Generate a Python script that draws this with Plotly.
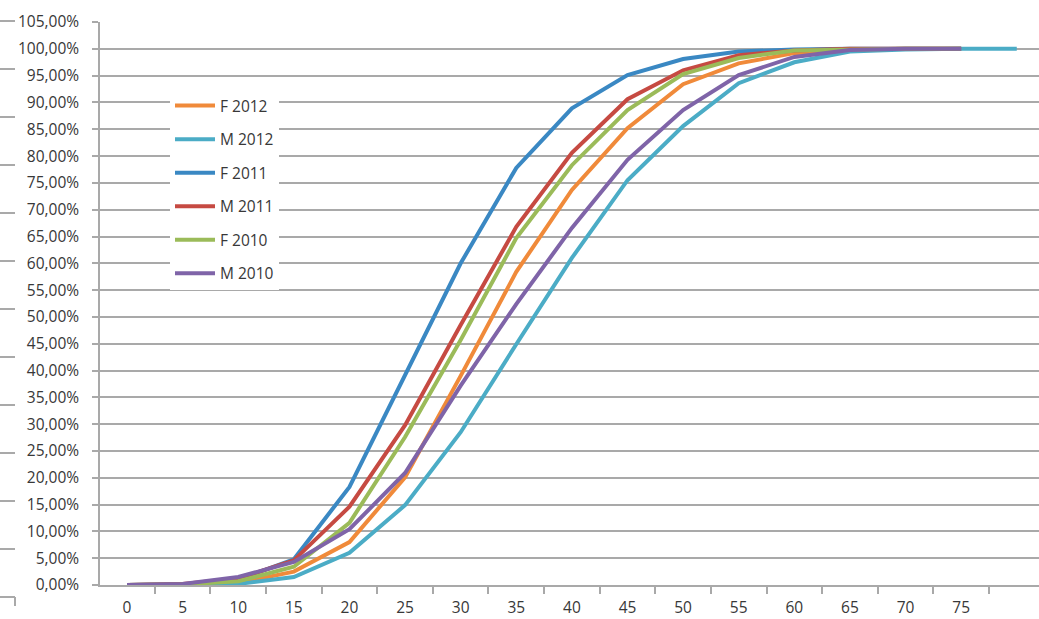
import plotly.graph_objects as go

# ---- data ----
ages = [0, 5, 10, 15, 20, 25, 30, 35, 40, 45, 50, 55, 60, 65, 70, 75, 80]
tick_labels = ["0", "5", "10", "15", "20", "25", "30", "35", "40", "45", "50", "55", "60", "65", "70", "75"]

f_2012 = [0, 0.001, 0.004, 0.025, 0.080, 0.201, 0.390, 0.584, 0.737, 0.852, 0.934, 0.973, 0.992, 0.999, 1.0, 1.0]
m_2012 = [0, 0.0005, 0.002, 0.015, 0.060, 0.149, 0.285, 0.449, 0.610, 0.755, 0.856, 0.936, 0.975, 0.995, 0.999, 1.0, 1.0]
f_2011 = [0, 0.001, 0.010, 0.048, 0.183, 0.390, 0.600, 0.778, 0.889, 0.951, 0.981, 0.995, 0.999, 1.0, 1.0, 1.0]
m_2011 = [0, 0.002, 0.012, 0.046, 0.146, 0.298, 0.485, 0.668, 0.806, 0.906, 0.960, 0.988, 0.997, 1.0, 1.0, 1.0]
f_2010 = [0, 0.001, 0.007, 0.034, 0.116, 0.276, 0.457, 0.647, 0.783, 0.886, 0.953, 0.983, 0.997, 0.999, 1.0, 1.0]
m_2010 = [0, 0.002, 0.015, 0.043, 0.104, 0.209, 0.372, 0.524, 0.666, 0.793, 0.886, 0.951, 0.985, 0.998, 1.0, 1.0]

series_names = ["F 2012", "M 2012", "F 2011", "M 2011", "F 2010", "M 2010"]
series_values = [f_2012, m_2012, f_2011, m_2011, f_2010, m_2010]
series_colors = ["#F08A3A", "#4BACC6", "#3A88C3", "#C64A42", "#9BBB59", "#7F64A8"]

# ---- layout constants ----
W, H = 1039, 619
ML, MR, MT, MB = 100, 0, 22, 34
GRID = "#A9A9A9"
TXT = "#383838"
FONT = "Open Sans"
FS = 15.5

fig = go.Figure()
for name, vals, col in zip(series_names, series_values, series_colors):
    fig.add_trace(go.Scatter(
        x=ages[:len(vals)], y=vals, name=name, mode="lines",
        line=dict(color=col, width=4), legendgroup=name,
    ))

# decorative stray tick marks at far left (part of a cropped neighbouring axis)
pw, ph = W - ML - MR, H - MT - MB
def px(x):
    return (x - ML) / pw
def py(y):
    return (H - MB - y) / ph

shapes = []
for i in range(13):
    yy = 21 + i * 48
    shapes.append(dict(type="line", xref="paper", yref="paper",
                       x0=px(0), x1=px(15), y0=py(yy), y1=py(yy),
                       line=dict(color=GRID, width=2)))
shapes.append(dict(type="line", xref="paper", yref="paper",
                   x0=px(15), x1=px(15), y0=py(597), y1=py(606),
                   line=dict(color=GRID, width=2)))

boundaries = [v - 2.5 for v in ages]

fig.update_layout(
    width=W, height=H,
    margin=dict(l=ML, r=MR, t=MT, b=MB),
    paper_bgcolor="white", plot_bgcolor="white",
    separators=", ",
    font=dict(family=FONT, size=FS, color=TXT),
    showlegend=True,
    legend=dict(
        x=px(170), y=py(89), xanchor="left", yanchor="top",
        bgcolor="white", borderwidth=0,
        font=dict(family=FONT, size=FS, color=TXT),
        tracegroupgap=10.4, traceorder="grouped",
        itemwidth=40,
    ),
    shapes=shapes,
    xaxis=dict(
        range=[-2.43, 82.0],
        tickmode="array", tickvals=ages[:len(tick_labels)], ticktext=tick_labels,
        ticks="", showgrid=False, zeroline=False,
        showline=True, linecolor=GRID, linewidth=1.5,
        tickfont=dict(family=FONT, size=FS, color=TXT),
        ticklabelstandoff=8,
        minor=dict(tickmode="array", tickvals=boundaries, ticks="outside",
                   ticklen=7, tickwidth=1.5, tickcolor=GRID, showgrid=False),
    ),
    yaxis=dict(
        range=[0, 1.0501],
        tickmode="linear", tick0=0, dtick=0.05, tickformat=".2%",
        ticks="outside", ticklen=6, tickwidth=1.5, tickcolor=GRID,
        showgrid=True, gridcolor=GRID, gridwidth=1.5,
        zeroline=False, showline=True, linecolor=GRID, linewidth=1.5,
        tickfont=dict(family=FONT, size=FS, color=TXT),
        ticklabelstandoff=10,
    ),
)

fig.write_html("out.html", config={"displayModeBar": False},
               post_script="document.body.style.margin='0';")
